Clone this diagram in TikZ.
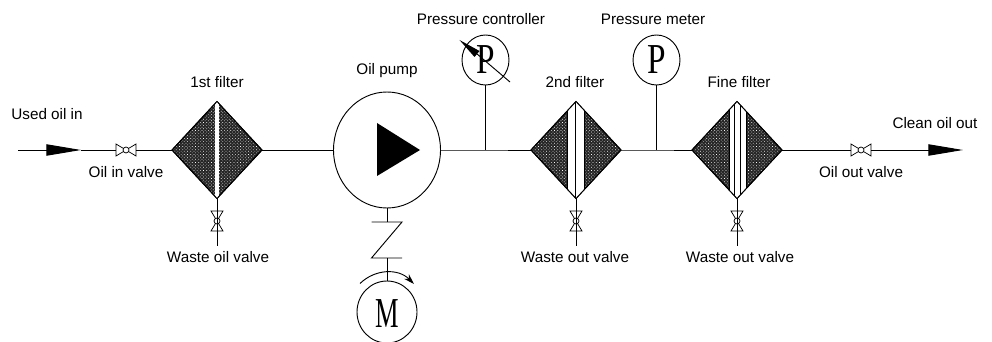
\documentclass[tikz,border=0pt]{standalone}
\usepackage{fontspec}
\setmainfont{Liberation Sans}
\newfontfamily\gaugefont{Liberation Serif}
\usetikzlibrary{arrows.meta,patterns.meta,shapes.geometric}
\tikzset{
  pipe/.style={line width=0.7pt},
  wedge/.style={pipe,-{Triangle[length=26pt,width=8.5pt]}},
  lbl/.style={font=\fontsize{11.45}{14}\selectfont,inner sep=0pt},
  letter/.style={font=\gaugefont\fontsize{32}{32}\selectfont,inner sep=0pt},
  filter/.style={diamond,pipe,draw,inner sep=0pt,outer sep=0pt,minimum width=67.5pt,minimum height=72.75pt,
    preaction={fill=black!85},pattern={Dots[distance=1.7pt,radius=0.36pt,angle=45]},pattern color=white},
  gauge/.style={ellipse,pipe,draw,inner sep=0pt,outer sep=0pt,minimum width=35.25pt,minimum height=37.5pt},
  valve/.pic={
    \draw[line width=0.55pt,fill=white] (-10,-6) -- (10,6) -- (10,-6) -- (-10,6) -- cycle;
    \draw[line width=0.55pt,fill=white] (0,0) circle (3);
    \coordinate (-in) at (-10,0);
    \coordinate (-out) at (10,0);
  }
}
\begin{document}
\begin{tikzpicture}[x=0.75pt,y=-0.75pt]
    \useasboundingbox[clip] (0,0) rectangle (992,342);
    % filters
    \node[filter] (filterA) at (217,150) {};
    \node[filter] (filterB) at (576,150) {};
    \node[filter] (filterC) at (737,150) {};
    % white bands
    \begin{scope}
        \clip (filterA.north) -- (filterA.east) -- (filterA.south) -- (filterA.west) -- cycle;
        \fill[white] (214.5,95) rectangle (219,205);
    \end{scope}
    \begin{scope}
        \clip (filterB.north) -- (filterB.east) -- (filterB.south) -- (filterB.west) -- cycle;
        \fill[white] (567,95) rectangle (584,205);
        \draw[pipe] (567,95) -- (567,205) (575.7,95) -- (575.7,205) (584,95) -- (584,205);
    \end{scope}
    \begin{scope}
        \clip (filterC.north) -- (filterC.east) -- (filterC.south) -- (filterC.west) -- cycle;
        \fill[white] (729,95) rectangle (746,205);
        \draw[pipe] (729,95) -- (729,205) (734.5,95) -- (734.5,205) (740.5,95) -- (740.5,205) (746,95) -- (746,205);
    \end{scope}
    \draw[pipe] (filterA.north) -- (filterA.east) -- (filterA.south) -- (filterA.west) -- cycle;
    \draw[pipe] (filterB.north) -- (filterB.east) -- (filterB.south) -- (filterB.west) -- cycle;
    \draw[pipe] (filterC.north) -- (filterC.east) -- (filterC.south) -- (filterC.west) -- cycle;

    % pump and motor
    \node[ellipse,pipe,draw,inner sep=0pt,outer sep=0pt,minimum width=80.25pt,minimum height=87pt] (pump) at (387,150) {};
    \fill (377,123) -- (420,150) -- (377,176) -- cycle;
    \node[gauge,minimum width=45pt,minimum height=46.5pt] (motor) at (387,312) {};
    \node[letter,xscale=0.62] (motorM) at (387.5,314) {M};

    % gauges
    \node[gauge] (controller) at (485.5,60) {};
    \node[letter,xscale=0.78] (controllerP) at (486,60) {P};
    \node[gauge] (meter) at (656.5,60) {};
    \node[letter,xscale=0.78] (meterP) at (657,60) {P};

    % valves
    \pic (inValve) at (126,150) {valve};
    \pic (outValve) at (861,150) {valve};
    \pic[rotate=90] (wasteA) at (217,221) {valve};
    \pic[rotate=90] (wasteB) at (576,221) {valve};
    \pic[rotate=90] (wasteC) at (737,221) {valve};

    % free ends and junctions
    \coordinate (oilIn) at (18,150);
    \coordinate (oilInTip) at (81,150);
    \coordinate (oilOutTip) at (963,150);
    \coordinate (tapA) at (485.5,150);
    \coordinate (tapB) at (656.5,150);
    \coordinate (endA) at (217,246);
    \coordinate (endB) at (576,246);
    \coordinate (endC) at (737,246);
    \coordinate (clutchTop) at (387,222);
    \coordinate (clutchBot) at (387,258);

    % main line
    \draw[wedge] (oilIn) -- (oilInTip);
    \draw[pipe] (oilInTip) -- (inValve-in);
    \draw[pipe] (inValve-out) -- (filterA.west);
    \draw[pipe] (filterA.east) -- (pump.west);
    \draw[pipe] (pump.east) -- (tapA) -- (filterB.west);
    \draw[pipe] (filterB.east) -- (tapB) -- (filterC.west);
    \draw[pipe] (filterC.east) -- (outValve-in);
    \draw[wedge] (outValve-out) -- (oilOutTip);
    \draw[pipe] (tapA) -- (controller.south);
    \draw[pipe] (tapB) -- (meter.south);

    % waste lines
    \draw[pipe] (filterA.south) -- (wasteA-in) (wasteA-out) -- (endA);
    \draw[pipe] (filterB.south) -- (wasteB-in) (wasteB-out) -- (endB);
    \draw[pipe] (filterC.south) -- (wasteC-in) (wasteC-out) -- (endC);

    % coupling
    \draw[pipe] (pump.south) -- (clutchTop);
    \draw[pipe] (371.5,222) -- (402,222) -- (371.5,258) -- (402,258);
    \draw[pipe] (clutchBot) -- (motor.north);
    \draw[pipe,-{Stealth[length=8pt,width=5pt]}] (360,283.5) .. controls (375,269) and (398,268) .. (414,284);

    % needle
    \draw[pipe] (470,48) -- (510,82);
    \fill (459.5,40) -- (479.5,51) -- (474.5,57) -- cycle;

    % text
    \node[lbl] (lblIn) at (47,114) {Used oil in};
    \node[lbl] (lblInValve) at (126,172) {Oil in valve};
    \node[lbl] (lblA) at (217,82) {1st filter};
    \node[lbl] (lblWasteA) at (218,257) {Waste oil valve};
    \node[lbl] (lblPump) at (387,71) {Oil pump};
    \node[lbl] (lblController) at (481,19) {Pressure controller};
    \node[lbl] (lblMeter) at (653,19.5) {Pressure meter};
    \node[lbl] (lblB) at (575,82) {2nd filter};
    \node[lbl] (lblC) at (739,82) {Fine filter};
    \node[lbl] (lblWasteB) at (575,257) {Waste out valve};
    \node[lbl] (lblWasteC) at (740,257) {Waste out valve};
    \node[lbl] (lblOutValve) at (861,172) {Oil out valve};
    \node[lbl] (lblOut) at (935,123) {Clean oil out};
\end{tikzpicture}
\end{document}
